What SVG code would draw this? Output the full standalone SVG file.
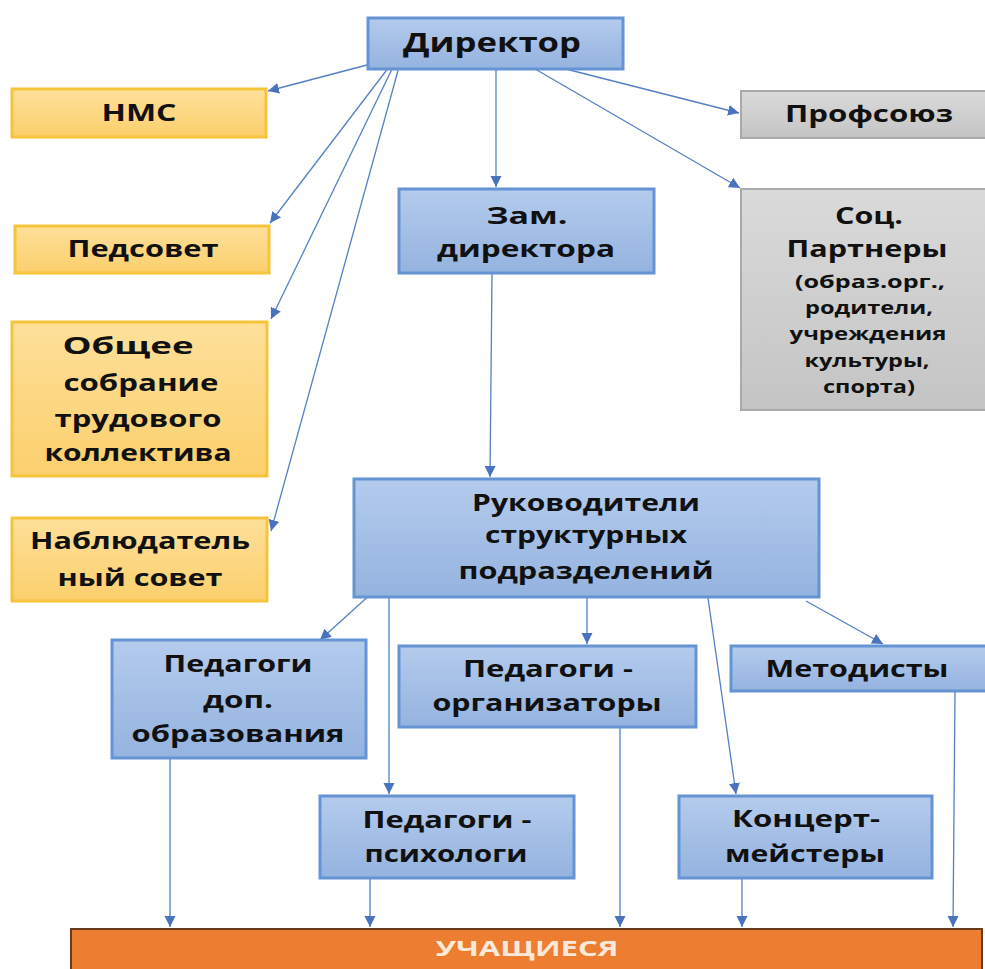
<svg xmlns="http://www.w3.org/2000/svg" width="985" height="969" viewBox="0 0 985 969">
<defs>
<linearGradient id="gBlue" x1="0" y1="0" x2="0" y2="1"><stop offset="0" stop-color="#b4cbed"/><stop offset="1" stop-color="#94b3df"/></linearGradient>
<linearGradient id="gYel" x1="0" y1="0" x2="0" y2="1"><stop offset="0" stop-color="#fee09a"/><stop offset="1" stop-color="#fbcf6c"/></linearGradient>
<linearGradient id="gGray" x1="0" y1="0" x2="0" y2="1"><stop offset="0" stop-color="#dadada"/><stop offset="1" stop-color="#c4c4c4"/></linearGradient>
<marker id="arr" markerUnits="userSpaceOnUse" markerWidth="12" markerHeight="12" refX="11" refY="5.5" orient="auto"><path d="M0,0 L11,5.5 L0,11 z" fill="#4a73bf"/></marker>
<style>
.blue{fill:url(#gBlue);stroke:#6593d3;stroke-width:3}
.yel{fill:url(#gYel);stroke:#f5c43a;stroke-width:3}
.gray{fill:url(#gGray);stroke:#a9a9a9;stroke-width:2}
.orng{fill:#ed7d31;stroke:#6a3a1c;stroke-width:2}
text{font-family:"Open Sans","DejaVu Sans",sans-serif;font-weight:bold;fill:#111;text-anchor:middle;font-size:22.5px}
.big{font-size:27px}
.sm{font-size:17px}
.wh{fill:#fbe9da;font-size:22px}
.c{fill:none;stroke:#5580c4;stroke-width:1.3;marker-end:url(#arr)}
</style>
</defs>
<g id="connectors">
<line class="c" x1="367" y1="65" x2="268" y2="91"/>
<line class="c" x1="389" y1="67" x2="270" y2="223"/>
<line class="c" x1="393" y1="67" x2="271" y2="319"/>
<line class="c" x1="399" y1="67" x2="271" y2="531"/>
<line class="c" x1="496" y1="70" x2="496" y2="187"/>
<line class="c" x1="550" y1="65" x2="739" y2="113"/>
<line class="c" x1="530" y1="66" x2="740" y2="188"/>
<line class="c" x1="492" y1="274" x2="490" y2="477"/>
<line class="c" x1="372" y1="593" x2="320" y2="640"/>
<line class="c" x1="389" y1="598" x2="389" y2="794"/>
<line class="c" x1="587" y1="598" x2="587" y2="644"/>
<line class="c" x1="708" y1="598" x2="736" y2="794"/>
<line class="c" x1="806" y1="601" x2="883" y2="644"/>
<line class="c" x1="170" y1="759" x2="170" y2="927"/>
<line class="c" x1="370" y1="879" x2="370" y2="927"/>
<line class="c" x1="620" y1="728" x2="620" y2="927"/>
<line class="c" x1="742" y1="879" x2="742" y2="927"/>
<line class="c" x1="955" y1="692" x2="953" y2="927"/>
</g>
<g id="director"><rect class="blue" x="368" y="18" width="255" height="51"/><text class="big" x="492" y="52" textLength="178" lengthAdjust="spacingAndGlyphs">Директор</text></g>
<g id="nms"><rect class="yel" x="12" y="89" width="254" height="48"/><text x="139" y="121" textLength="75" lengthAdjust="spacingAndGlyphs">НМС</text></g>
<g id="pedsovet"><rect class="yel" x="15" y="226" width="254" height="47"/><text x="143" y="257" textLength="151" lengthAdjust="spacingAndGlyphs">Педсовет</text></g>
<g id="obshee"><rect class="yel" x="12" y="322" width="255" height="154"/>
<text x="128" y="354" textLength="131" lengthAdjust="spacingAndGlyphs">Общее</text>
<text x="141" y="391" textLength="155" lengthAdjust="spacingAndGlyphs">собрание</text>
<text x="138" y="427" textLength="167" lengthAdjust="spacingAndGlyphs">трудового</text>
<text x="138" y="461" textLength="187" lengthAdjust="spacingAndGlyphs">коллектива</text></g>
<g id="nabl"><rect class="yel" x="12" y="518" width="255" height="83"/>
<text x="140" y="549" textLength="220" lengthAdjust="spacingAndGlyphs">Наблюдатель</text>
<text x="140" y="586" textLength="165" lengthAdjust="spacingAndGlyphs">ный совет</text></g>
<g id="zam"><rect class="blue" x="399" y="189" width="255" height="84"/>
<text x="527" y="224" textLength="81" lengthAdjust="spacingAndGlyphs">Зам.</text>
<text x="526" y="257" textLength="178" lengthAdjust="spacingAndGlyphs">директора</text></g>
<g id="profsoyuz"><rect class="gray" x="741" y="91" width="250" height="47"/><text x="869" y="122" textLength="168" lengthAdjust="spacingAndGlyphs">Профсоюз</text></g>
<g id="soc"><rect class="gray" x="741" y="189" width="250" height="221"/>
<text x="869" y="224" textLength="68" lengthAdjust="spacingAndGlyphs">Соц.</text>
<text x="867" y="257" textLength="161" lengthAdjust="spacingAndGlyphs">Партнеры</text>
<text class="sm" x="870" y="288" textLength="150" lengthAdjust="spacingAndGlyphs">(образ.орг.,</text>
<text class="sm" x="869" y="314" textLength="128" lengthAdjust="spacingAndGlyphs">родители,</text>
<text class="sm" x="868" y="340" textLength="157" lengthAdjust="spacingAndGlyphs">учреждения</text>
<text class="sm" x="867" y="367" textLength="125" lengthAdjust="spacingAndGlyphs">культуры,</text>
<text class="sm" x="869" y="393" textLength="92" lengthAdjust="spacingAndGlyphs">спорта)</text></g>
<g id="ruk"><rect class="blue" x="354" y="479" width="465" height="118"/>
<text x="586" y="511" textLength="228" lengthAdjust="spacingAndGlyphs">Руководители</text>
<text x="586" y="543" textLength="202" lengthAdjust="spacingAndGlyphs">структурных</text>
<text x="586" y="579" textLength="255" lengthAdjust="spacingAndGlyphs">подразделений</text></g>
<g id="ped-dop"><rect class="blue" x="112" y="640" width="254" height="118"/>
<text x="238" y="672" textLength="149" lengthAdjust="spacingAndGlyphs">Педагоги</text>
<text x="238" y="708" textLength="70" lengthAdjust="spacingAndGlyphs">доп.</text>
<text x="238" y="742" textLength="213" lengthAdjust="spacingAndGlyphs">образования</text></g>
<g id="ped-org"><rect class="blue" x="399" y="646" width="297" height="81"/>
<text x="548" y="677" textLength="170" lengthAdjust="spacingAndGlyphs">Педагоги -</text>
<text x="547" y="711" textLength="229" lengthAdjust="spacingAndGlyphs">организаторы</text></g>
<g id="metod"><rect class="blue" x="731" y="646" width="258" height="45"/>
<text x="857" y="677" textLength="183" lengthAdjust="spacingAndGlyphs">Методисты</text></g>
<g id="ped-psy"><rect class="blue" x="320" y="796" width="254" height="82"/>
<text x="447" y="828" textLength="169" lengthAdjust="spacingAndGlyphs">Педагоги -</text>
<text x="446" y="862" textLength="163" lengthAdjust="spacingAndGlyphs">психологи</text></g>
<g id="konc"><rect class="blue" x="679" y="796" width="253" height="82"/>
<text x="806" y="827" textLength="148" lengthAdjust="spacingAndGlyphs">Концерт-</text>
<text x="805" y="862" textLength="160" lengthAdjust="spacingAndGlyphs">мейстеры</text></g>
<g id="uchashiesya"><rect class="orng" x="71" y="929" width="911" height="45"/>
<text class="wh" x="527" y="956" textLength="183" lengthAdjust="spacingAndGlyphs">УЧАЩИЕСЯ</text></g>
</svg>
